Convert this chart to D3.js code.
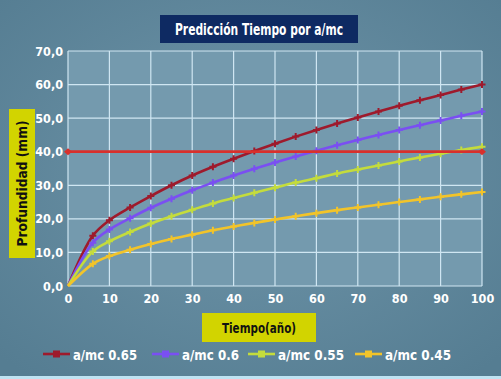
<!DOCTYPE html>
<html><head><meta charset="utf-8">
<script src="https://cdn.jsdelivr.net/npm/d3@7"></script>
<style>
html,body{margin:0;padding:0;background:#5f879b;}
svg{display:block;}
text{font-family:"DejaVu Sans",sans-serif;font-stretch:condensed;font-weight:bold;}
</style></head>
<body><svg id="c" width="501" height="379"></svg>
<script>
const years = [0,6,10,15,20,25,30,35,40,45,50,55,60,65,70,75,80,85,90,95,100];
const s065 = [0,15.0,19.6,23.4,26.8,30.0,32.9,35.5,37.9,40.2,42.4,44.5,46.5,48.4,50.2,52.0,53.7,55.3,56.9,58.5,60.0];
const s060 = [0,12.9,16.8,20.2,23.3,26.0,28.5,30.8,32.9,34.9,36.8,38.6,40.3,41.9,43.5,45.0,46.5,47.9,49.3,50.7,52.0];
const s055 = [0,10.3,13.3,16.1,18.6,20.8,22.7,24.6,26.2,27.8,29.3,30.8,32.1,33.5,34.7,35.9,37.1,38.3,39.4,40.5,41.5];
const s045 = [0,6.6,8.9,10.8,12.5,14.0,15.3,16.6,17.7,18.8,19.8,20.8,21.7,22.6,23.4,24.2,25.0,25.8,26.6,27.3,28.0];
const limitX = [0,100];
const limitY = [40,40];
const seriesNames = ["a/mc 0.65","a/mc 0.6","a/mc 0.55","a/mc 0.45"];
const seriesColors = ["#9e1a2c","#7a4ff2","#c4dc3c","#f2c42a"];
const xTicks = [0,10,20,30,40,50,60,70,80,90,100];
const yTicks = [0,10,20,30,40,50,60,70];
const title = "Predicción Tiempo por a/mc";
const yTitle = "Profundidad (mm)";
const xTitle = "Tiempo(año)";

const svg = d3.select("#c");
const defs = svg.append("defs");
const rg = defs.append("radialGradient").attr("id","bg").attr("cx","50%").attr("cy","45%").attr("r","70%");
rg.append("stop").attr("offset","0%").attr("stop-color","#6f95a9");
rg.append("stop").attr("offset","100%").attr("stop-color","#557d92");
svg.append("rect").attr("width",501).attr("height",379).attr("fill","url(#bg)");
svg.append("rect").attr("x",0).attr("y",376).attr("width",501).attr("height",3).attr("fill","#bfe3f2");

const x = d3.scaleLinear().domain([0,100]).range([68,482]);
const y = d3.scaleLinear().domain([0,70]).range([286,51]);

svg.append("rect").attr("x",x(0)).attr("y",y(70)).attr("width",x(100)-x(0)).attr("height",y(0)-y(70))
  .attr("fill","#749aae");

svg.append("g").selectAll("line").data(yTicks).join("line")
  .attr("x1",x(0)).attr("x2",x(100)).attr("y1",d=>y(d)).attr("y2",d=>y(d))
  .attr("stroke","#cfe6f2").attr("stroke-width",1.2);
svg.append("g").selectAll("line").data(xTicks).join("line")
  .attr("y1",y(0)).attr("y2",y(70)).attr("x1",d=>x(d)).attr("x2",d=>x(d))
  .attr("stroke","#cfe6f2").attr("stroke-width",1.2);

const fmt = d3.format(".1f");
const yAxis = svg.append("g").attr("transform",`translate(${x(0)},0)`)
  .call(d3.axisLeft(y).tickValues(yTicks).tickSize(0).tickPadding(5).tickFormat(d=>fmt(d).replace(".",",")));
yAxis.select(".domain").remove();
yAxis.selectAll("text").attr("fill","#ffffff").style("font-size","12.5px");
const xAxis = svg.append("g").attr("transform",`translate(0,${y(0)})`)
  .call(d3.axisBottom(x).tickValues(xTicks).tickSize(0).tickPadding(8));
xAxis.select(".domain").remove();
xAxis.selectAll("text").attr("fill","#ffffff").style("font-size","12.5px");

const data = [s065,s060,s055,s045];
const line = d3.line().x((d,i)=>x(years[i])).y(d=>y(d)).curve(d3.curveCatmullRom);
const plus = (cx,cy,s)=>`M${cx-s},${cy}H${cx+s}M${cx},${cy-s}V${cy+s}`;
data.forEach((vals,k)=>{
  const g = svg.append("g");
  g.append("path").datum(vals).attr("d",line).attr("fill","none")
    .attr("stroke",seriesColors[k]).attr("stroke-width",2.6);
  g.selectAll("path.m").data(vals.slice(1)).join("path").attr("class","m")
    .attr("d",(d,i)=>plus(x(years[i+1]),y(d),3.5))
    .attr("stroke",seriesColors[k]).attr("stroke-width",2);
});

const lim = limitX.map((v,i)=>[v,limitY[i]]);
svg.append("path").datum(lim).attr("d",d3.line().x(d=>x(d[0])).y(d=>y(d[1])))
  .attr("stroke","#d8302c").attr("stroke-width",2.8).attr("fill","none");
svg.append("g").selectAll("path").data(lim).join("path")
  .attr("d",d=>`M${x(d[0])-4},${y(d[1])}L${x(d[0])},${y(d[1])-3.5}L${x(d[0])+4},${y(d[1])}L${x(d[0])},${y(d[1])+3.5}Z`)
  .attr("fill","#d8302c");

svg.append("rect").attr("x",160).attr("y",15).attr("width",198).attr("height",28).attr("fill","#0e2a62");
svg.append("text").attr("x",259).attr("y",34.5).attr("text-anchor","middle").attr("fill","#ffffff")
  .style("font-size","15px").attr("textLength",168).attr("lengthAdjust","spacingAndGlyphs").text(title);

svg.append("rect").attr("x",9).attr("y",109).attr("width",26).attr("height",149).attr("fill","#d2d400");
svg.append("text").attr("transform","translate(27,183.5) rotate(-90)").attr("text-anchor","middle")
  .attr("fill","#111").style("font-size","13.5px").attr("textLength",126).attr("lengthAdjust","spacingAndGlyphs").text(yTitle);

svg.append("rect").attr("x",202).attr("y",313).attr("width",114).attr("height",29).attr("fill","#d2d400");
svg.append("text").attr("x",259).attr("y",332.5).attr("text-anchor","middle")
  .attr("fill","#111").style("font-size","14px").attr("textLength",74).attr("lengthAdjust","spacingAndGlyphs").text(xTitle);

const legX = [43,152,248,355];
const legW = [64,57,66,66];
const lg = svg.append("g").selectAll("g").data(seriesNames).join("g")
  .attr("transform",(d,i)=>`translate(${legX[i]},354)`);
lg.append("line").attr("x1",0).attr("x2",27).attr("stroke",(d,i)=>seriesColors[i]).attr("stroke-width",2.6);
lg.append("rect").attr("x",10).attr("y",-3.5).attr("width",7).attr("height",7).attr("fill",(d,i)=>seriesColors[i]);
lg.append("text").attr("x",30).attr("y",5.5).attr("fill","#ffffff").style("font-size","14.5px")
  .attr("textLength",(d,i)=>legW[i]).attr("lengthAdjust","spacingAndGlyphs").text(d=>d);
</script></body></html>
